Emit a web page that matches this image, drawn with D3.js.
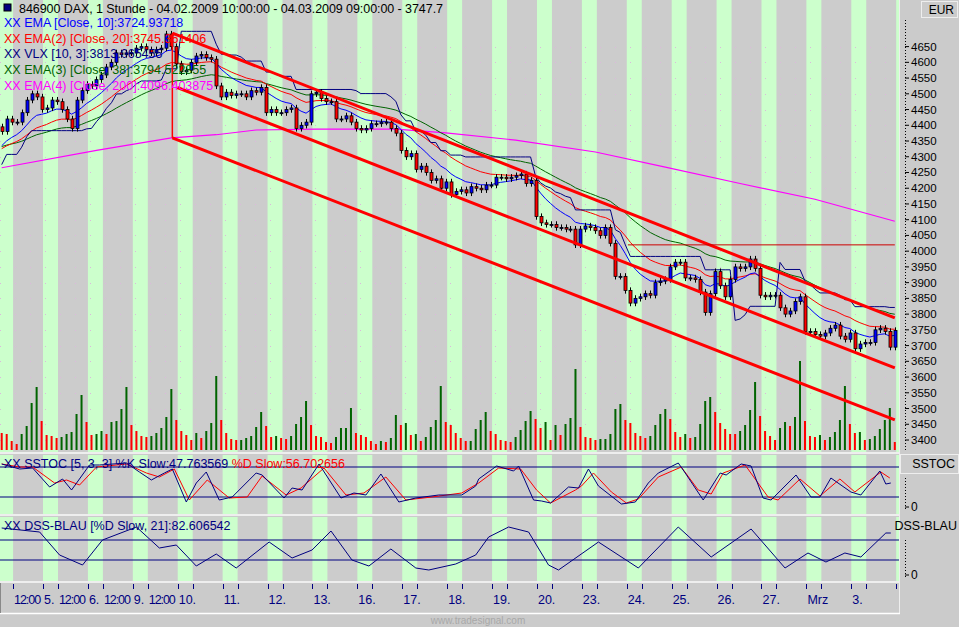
<!DOCTYPE html>
<html><head><meta charset="utf-8">
<script src="https://cdn.jsdelivr.net/npm/d3@7"></script>
<style>body{margin:0;background:#cbcbcb;overflow:hidden}svg{display:block}</style>
</head><body><svg id="c" width="959" height="627"></svg>
<script>
// ---------- DATA ----------
const dayLabels = ['5.','6.','9.','10.','11.','12.','13.','16.','17.','18.','19.','20.','23.','24.','25.','26.','27.','Mrz','3.'];
const firstOpen = 4395;
const closes = [
 4380,4420,4410,4410,4440,4480,4500,4490,
 4450,4455,4480,4475,4450,4420,4390,4480,4510,
 4530,4525,4545,4560,4585,4600,4630,4625,4630,
 4630,4645,4650,4640,4630,4640,4645,4690,4650,
 4595,4570,4575,4600,4620,4625,4615,4610,4525,
 4490,4505,4495,4500,4500,4490,4510,4505,4520,
 4440,4450,4440,4440,4450,4455,4390,4400,4410,
 4500,4505,4485,4475,4475,4420,4420,4430,4410,
 4390,4385,4390,4405,4405,4410,4410,4390,4375,
 4320,4300,4310,4260,4270,4250,4225,4230,4200,
 4220,4180,4190,4195,4185,4205,4200,4195,4210,
 4210,4235,4235,4230,4235,4240,4245,4215,4225,
 4110,4090,4085,4085,4075,4075,4070,4070,4020,
 4070,4080,4075,4065,4050,4075,4025,3920,3920,
 3875,3835,3850,3855,3865,3860,3900,3905,3910,
 3950,3965,3965,3915,3915,3910,3870,3805,3865,
 3935,3890,3855,3910,3950,3945,3950,3975,3945,
 3860,3855,3860,3860,3820,3800,3810,3840,3855,
 3745,3745,3735,3730,3740,3755,3765,3730,3720,
 3740,3690,3705,3710,3710,3750,3755,3745,3695,
 3748];
const volumes = [
 17,16,9,6,16,24,47,63,
 29,15,14,12,13,16,18,36,55,
 28,15,16,19,16,28,29,41,63,
 25,19,14,13,14,17,22,33,61,
 30,19,15,10,17,12,19,27,74,
 30,17,11,10,10,12,14,23,38,
 24,13,14,12,11,14,26,33,49,
 25,14,13,8,7,13,22,22,42,
 17,15,13,9,6,9,8,12,35,
 25,27,15,16,9,13,23,30,64,
 28,25,17,12,9,9,21,30,38,
 19,16,10,9,8,13,20,29,39,
 31,22,28,10,25,15,26,32,81,
 23,13,12,10,11,11,16,41,46,
 30,27,17,14,12,14,25,36,41,
 31,18,13,16,12,13,26,49,53,
 38,27,21,16,16,19,25,40,68,
 34,19,14,10,22,28,24,33,89,
 29,14,13,15,10,13,18,30,64,
 26,17,18,10,11,14,21,30,42,
 8];
const volDir =
 "rrrrgggg"+"rrrrggggg"+"rrggrgggg"+"rrrrggggg"+"rrrrgrggg"+"rrrrggggg"+"rrgrrgggg"+"rrrrrgggg"+"rrrrrgrgg"+"rgrgrgggg"+
 "rrrrrgggg"+"rrrrrgggg"+"rrgrgrggg"+"rrrrggggg"+"rrrrrgggg"+"rrrgrgggg"+"rrrrrgggg"+"rrrrggrgg"+"rrrgrgggg"+"rrgrggggg"+"r";
const emaSeeds = {ema10:4325, ema20:4320, ema38:4330};
const ema200Pts = [[0,4265],[19,4320],[34,4360],[43,4370],[51,4385],[63,4388],[79,4388],[89,4376],[103,4353],[119,4315],[133,4267],[148,4215],[163,4165],[179,4095]];
const stochK = [[0,86],[3.6,76],[6.2,78],[9.6,40],[12.2,56],[14,34],[17.6,84],[19.6,84],[25,88],[27.6,70],[30,54],[32.6,68],[34.2,76],[37,10],[39,48],[41,70],[43.6,14],[46.2,20],[51,68],[52.2,64],[56.6,18],[58.2,38],[60.2,34],[63.6,86],[68,18],[70.6,28],[73,24],[76,66],[79.6,10],[83,18],[87.6,24],[92.2,24],[95,42],[95.6,56],[99.2,82],[102.6,72],[103.6,82],[106.6,14],[108.2,12],[110,8],[113.6,40],[115.6,38],[117.6,76],[119.6,42],[124.2,6],[127,10],[129.6,48],[131.6,68],[135.6,88],[137,68],[140.6,14],[144,68],[145.2,64],[148.2,86],[150.2,82],[152.6,18],[154.2,14],[159.2,64],[162.2,20],[164,20],[166.2,58],[170.2,30],[172.2,24],[176,72],[177.2,46],[178.2,48]];
const stochD = [[0,86],[3.6,80],[6.2,80],[10.6,48],[13,54],[15.6,44],[19,80],[25,86],[29,68],[31.6,60],[34.6,76],[37.6,14],[41.2,54],[45.6,18],[49.2,20],[52.2,62],[57,24],[60,38],[64.6,78],[69,24],[72.6,28],[77,60],[81,14],[86.2,20],[92.2,28],[95.6,48],[99.6,78],[104,76],[107.2,34],[110,8],[115,34],[116.2,42],[118.6,68],[122.2,30],[125.2,8],[127.6,16],[131.6,60],[136.2,80],[139.6,34],[142.2,26],[144.6,68],[149,84],[153.6,20],[155.6,14],[160,56],[164,22],[168,56],[171,30],[176.2,70],[178,58]];
const dssPts = [[0,94],[7.6,86],[11.6,40],[16.2,20],[20.2,70],[27,96],[31.6,54],[35,60],[39,18],[43,42],[47,14],[53.6,66],[58.2,34],[62.2,50],[66,88],[70.2,30],[73.6,18],[78,52],[83,14],[85.6,10],[91,22],[95,40],[97.6,76],[101.6,96],[105.6,86],[109.6,20],[111.6,10],[119.6,66],[127.6,14],[135.6,96],[142.2,36],[150.2,92],[157,14],[161.6,44],[165.2,26],[169,44],[172.2,36],[177.2,84],[178.2,84]];
const priceTicks = d3.range(3400, 4651, 50);
const channels = [
 {b0:34.2,p0:4693,b1:179,p1:3788},
 {b0:35.2,p0:4520,b1:179,p1:3629},
 {b0:34.2,p0:4360,b1:179,p1:3464}];
const hLine = {b0:125.5, b1:179, p:4020};

// ---------- SETUP ----------
const svg = d3.select('#c');
const x = d3.scaleLinear().domain([0,179]).range([1.7,894.8]);
const y = d3.scaleLinear().domain([3400,4650]).range([440,46.6]);
const yv = d3.scaleLinear().domain([0,100]).range([450,350]);
const ys = d3.scaleLinear().domain([0,100]).range([507,457]);
const yd = d3.scaleLinear().domain([0,100]).range([575,525]);
const opens = closes.map((c,i)=> i===0?firstOpen:closes[i-1]);
const highs = closes.map((c,i)=>Math.max(c,opens[i])+10);
const lows = closes.map((c,i)=>Math.min(c,opens[i])-10);
const FONT = "'Liberation Sans', Arial, sans-serif";
const W = 899;
const panes = [{y0:0,y1:452},{y0:455,y1:514},{y0:517,y1:581}];

const dayStarts = [-1].concat(d3.range(0,20).map(k=>8+9*k));
panes.forEach((p)=>{
  svg.append('rect').attr('x',0).attr('y',p.y0).attr('width',W).attr('height',p.y1-p.y0).attr('fill','#cccccc');
  svg.append('g').selectAll('rect').data(dayStarts).join('rect')
   .attr('x',d=>Math.max(0,x(d)+1.4)).attr('y',p.y0)
   .attr('width',d=>Math.min(W, x(d+3)+1.4)-Math.max(0,x(d)+1.4)).attr('height',p.y1-p.y0).attr('fill','#ccffcc');
  svg.append('line').attr('x1',0).attr('x2',W).attr('y1',p.y1+1).attr('y2',p.y1+1).attr('stroke','#eeeeee').attr('stroke-width',2);
});
svg.append('line').attr('x1',W+0.5).attr('x2',W+0.5).attr('y1',0).attr('y2',614).attr('stroke','#eeeeee');

svg.append('g').selectAll('line').data(priceTicks).join('line')
  .attr('x1',0).attr('x2',W).attr('y1',d=>Math.round(y(d))+0.5).attr('y2',d=>Math.round(y(d))+0.5)
  .attr('stroke','#dcb8dc').attr('stroke-dasharray','1,14');

svg.append('clipPath').attr('id','mc').append('rect').attr('x',0).attr('y',0).attr('width',W).attr('height',452);
const main = svg.append('g').attr('clip-path','url(#mc)');

main.append('g').selectAll('rect').data(volumes).join('rect')
  .attr('x',(d,i)=>x(i)-1).attr('y',d=>yv(d)).attr('width',2).attr('height',d=>450-yv(d))
  .attr('fill',(d,i)=>volDir[i]==='g'?'#006400':'#ff0000');

function ema(arr, n, seed){let e=seed; return arr.map(c=>(e=e+(2/(n+1))*(c-e)));}
const e10 = ema(closes,10,emaSeeds.ema10), e20 = ema(closes,20,emaSeeds.ema20), e38 = ema(closes,38,emaSeeds.ema38);
const tr = closes.map((c,i)=>highs[i]-lows[i]);
let atr=tr[0], up=true, stop=closes[0]-110; const vlx=[];
closes.forEach((c,i)=>{ atr = atr + (tr[i]-atr)/10; const k=3*atr;
  if(up){ stop=Math.max(stop,c-k); if(c<stop){up=false; stop=c+k;} }
  else { stop=Math.min(stop,c+k); if(c>stop){up=true; stop=c-k;} }
  vlx.push(stop);});
const ln = d3.line().x((d,i)=>x(i)).y(d=>y(d));
const lnP = (sc)=>d3.line().x(d=>x(d[0])).y(d=>sc(d[1]));
main.append('path').attr('d',lnP(y)(ema200Pts)).attr('fill','none').attr('stroke','#ff00ff').attr('stroke-width',1.2);
main.append('path').attr('d',ln(e38)).attr('fill','none').attr('stroke','#006400');
main.append('path').attr('d',ln(e20)).attr('fill','none').attr('stroke','#ff0000');
main.append('path').attr('d',ln(vlx)).attr('fill','none').attr('stroke','#000080');
main.append('path').attr('d',ln(e10)).attr('fill','none').attr('stroke','#0000ff');

const cg = main.append('g');
cg.selectAll('line').data(closes).join('line')
  .attr('x1',(d,i)=>Math.round(x(i))+0.5).attr('x2',(d,i)=>Math.round(x(i))+0.5)
  .attr('y1',(d,i)=>y(highs[i])).attr('y2',(d,i)=>y(lows[i])).attr('stroke','#000');
cg.selectAll('rect').data(closes).join('rect')
  .attr('x',(d,i)=>Math.round(x(i))-1).attr('width',3)
  .attr('y',(d,i)=>y(Math.max(d,opens[i]))).attr('height',(d,i)=>Math.max(1,Math.abs(y(d)-y(opens[i]))))
  .attr('fill',(d,i)=>d>=opens[i]?'#0000ff':'#ff0000').attr('stroke','#000').attr('stroke-width',0.8);

channels.forEach(c=>main.append('line').attr('x1',x(c.b0)).attr('y1',y(c.p0)).attr('x2',x(c.b1)).attr('y2',y(c.p1))
  .attr('stroke','#ff0000').attr('stroke-width',3));
main.append('line').attr('x1',x(34.2)).attr('x2',x(34.2)).attr('y1',y(4693)).attr('y2',y(4360)).attr('stroke','#ff0000').attr('stroke-width',1.5);
main.append('line').attr('x1',x(hLine.b0)).attr('x2',x(hLine.b1)).attr('y1',y(hLine.p)).attr('y2',y(hLine.p)).attr('stroke','#cc0000').attr('stroke-width',1);

[[ys,[20,80]],[yd,[30,70]]].forEach(([sc,lv])=>lv.forEach(v=>svg.append('line').attr('x1',0).attr('x2',W)
  .attr('y1',sc(v)).attr('y2',sc(v)).attr('stroke','#000080').attr('stroke-width',1.2)));
svg.append('path').attr('d',lnP(ys)(stochD)).attr('fill','none').attr('stroke','#ff0000');
svg.append('path').attr('d',lnP(ys)(stochK)).attr('fill','none').attr('stroke','#000080');
svg.append('path').attr('d',lnP(yd)(dssPts)).attr('fill','none').attr('stroke','#000080');

const txt=(t,xx,yy,col,sz=12.5,anchor='start')=>svg.append('text').attr('x',xx).attr('y',yy).attr('fill',col)
  .attr('font-family',FONT).attr('font-size',sz).attr('text-anchor',anchor).text(t);
svg.append('rect').attr('x',4).attr('y',4).attr('width',7).attr('height',7).attr('fill','#000080').attr('stroke','#000');
txt('846900  DAX, 1 Stunde - 04.02.2009 10:00:00 - 04.03.2009 09:00:00 - 3747.7',19,13,'#000',12.5).attr('textLength',424);
txt('XX EMA [Close, 10]:3724.93718',4,27,'#0000ff');
txt('XX EMA(2) [Close, 20]:3745.361406',4,43,'#ff0000');
txt('XX VLX [10, 3]:3813.065455',4,58,'#000080');
txt('XX EMA(3) [Close, 38]:3794.522855',4,74,'#006400');
txt('XX EMA(4) [Close, 200]:4096.403875',4,90,'#ff00ff');
const st = txt('XX SSTOC [5, 3, 3] %K Slow:47.763569',4,468,'#000080');
st.append('tspan').attr('fill','#ff0000').text(' %D Slow:56.702656');
txt('XX DSS-BLAU [%D Slow, 21]:82.606542',4,530,'#000080');

const ra = svg.append('g');
ra.append('line').attr('x1',905.5).attr('x2',905.5).attr('y1',20).attr('y2',450).attr('stroke','#000').attr('stroke-dasharray','1,2');
priceTicks.forEach(v=>{ ra.append('line').attr('x1',905).attr('x2',909).attr('y1',y(v)).attr('y2',y(v)).attr('stroke','#000');
  txt(String(v),911,y(v)+4,'#000',11.5);});
svg.append('rect').attr('x',921.5).attr('y',1.5).attr('width',36).attr('height',16).attr('fill','none').attr('stroke','#eee');
txt('EUR',954,14,'#000',12,'end');
svg.append('rect').attr('x',900.5).attr('y',454.5).attr('width',58).attr('height',19).attr('fill','none').attr('stroke','#eee');
txt('SSTOC',955,468,'#000',12.5,'end');
txt('DSS-BLAU',957,530,'#000',12.5,'end');
[[ys,478,509],[yd,540,577]].forEach(([sc,a,b])=>{
  ra.append('line').attr('x1',905.5).attr('x2',905.5).attr('y1',a).attr('y2',b).attr('stroke','#000').attr('stroke-dasharray','1,2');
  ra.append('line').attr('x1',905).attr('x2',909).attr('y1',sc(0)).attr('y2',sc(0)).attr('stroke','#000');
  txt('0',911,sc(0)+4,'#000',12);});

const ta = svg.append('g');
svg.append('line').attr('x1',0).attr('x2',W+1).attr('y1',613.5).attr('y2',613.5).attr('stroke','#ffffff').attr('stroke-width',1.5);
svg.append('line').attr('x1',0.5).attr('x2',0.5).attr('y1',583).attr('y2',613).attr('stroke','#888');
dayStarts.forEach((s,k)=>{
  [s, s+3].forEach(b=>{const xx=Math.round(x(b)+1.4)+0.5; if(xx>0&&xx<W) ta.append('line').attr('x1',xx).attr('x2',xx).attr('y1',584).attr('y2',589).attr('stroke','#000080');});
  if(k>=1 && k-1<dayLabels.length) txt(dayLabels[k-1], x(s)+2.4, 604, '#000080', 12.5);
  if(k<=3) txt('12:00', x(s+3)+2.4, 604, '#000080', 12.5).attr('textLength',27);
});
txt('www.tradesignal.com',478,624,'#a8a8a8',10,'middle');
</script></body></html>
